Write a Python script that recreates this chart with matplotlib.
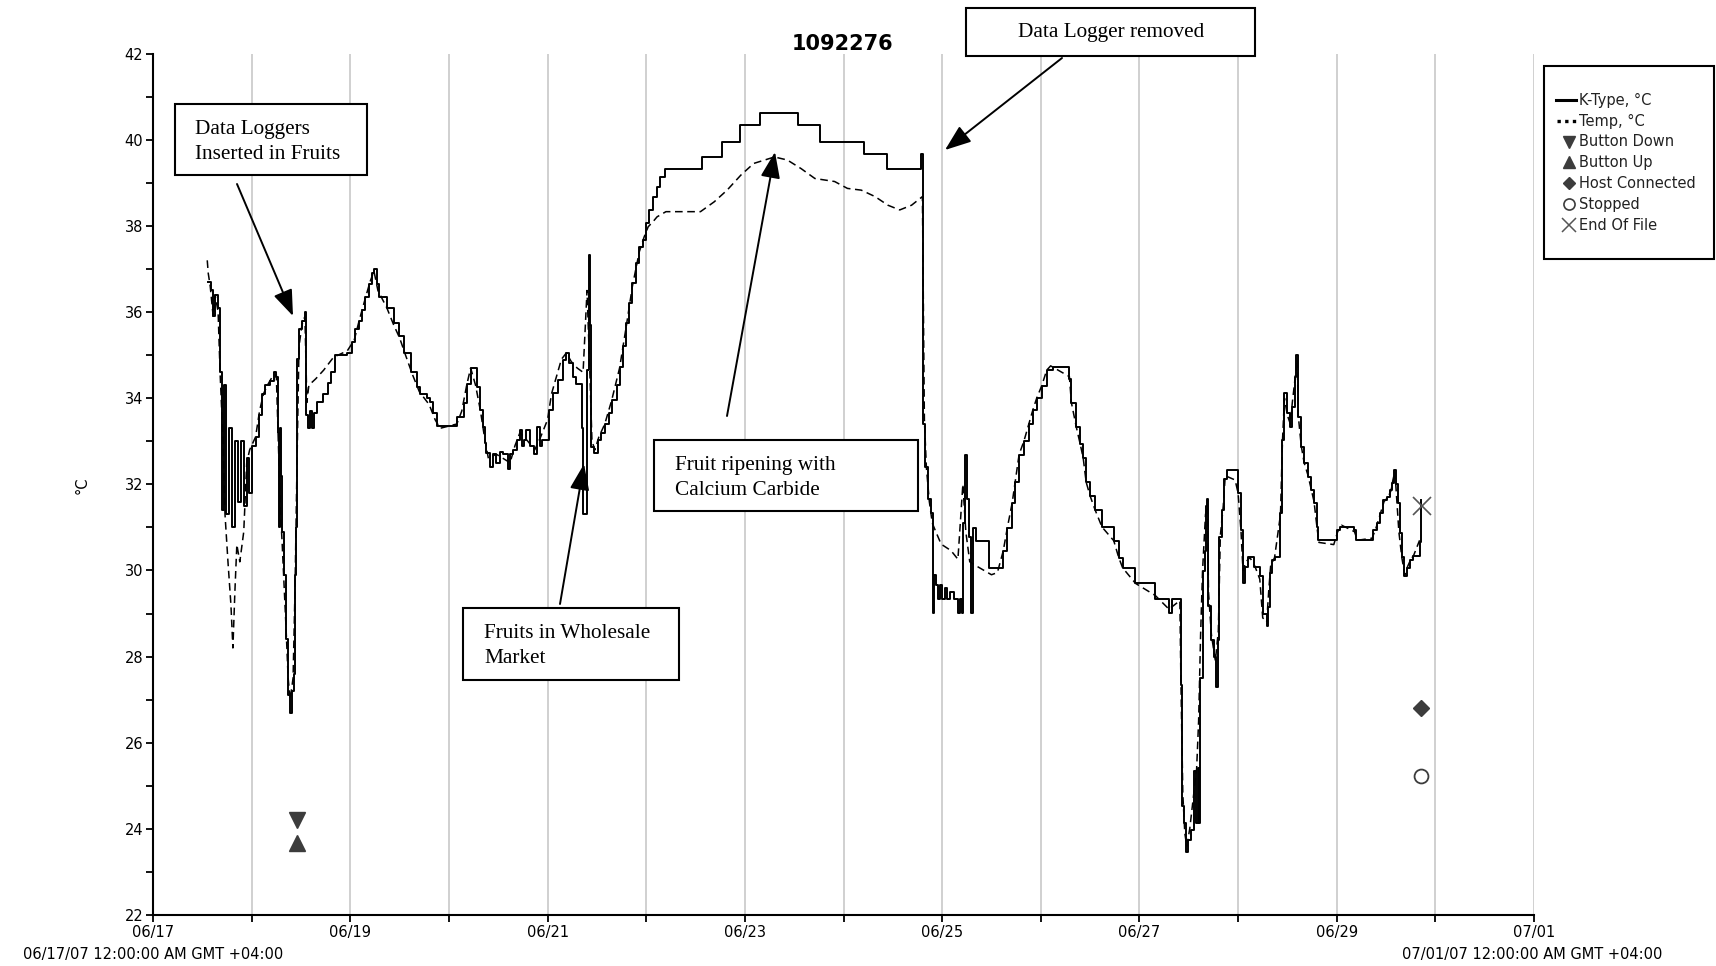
import numpy as np
import matplotlib
matplotlib.use('Agg')
import matplotlib.pyplot as plt
from matplotlib.patches import Rectangle
from matplotlib.lines import Line2D

W, H = 1716, 966

# readings as (days after 06/17/07 00:00, deg C)
k_type = [
    (0.56, 36.7), (0.59, 36.5), (0.61, 35.9), (0.63, 36.4), (0.66, 36.1), (0.68, 34.6),
    (0.70, 31.4), (0.72, 34.3), (0.745, 31.3), (0.775, 33.3), (0.80, 31.0), (0.83, 33.0),
    (0.86, 31.6), (0.89, 33.0), (0.92, 31.5), (0.95, 32.6), (0.97, 31.8),
    (1.00, 32.9), (1.04, 33.1), (1.07, 33.6),
    (1.11, 34.1), (1.14, 34.3), (1.19, 34.4), (1.23, 34.6), (1.25, 34.5), (1.27, 33.2),
    (1.28, 31.0), (1.29, 33.3), (1.30, 32.2), (1.31, 30.9), (1.33, 29.9), (1.35, 28.4),
    (1.37, 27.1), (1.39, 26.7), (1.41, 27.2), (1.43, 27.6), (1.44, 29.9), (1.45, 31.0),
    (1.46, 34.9), (1.48, 35.6), (1.51, 35.8), (1.54, 36.0), (1.55, 33.6), (1.57, 33.3),
    (1.59, 33.7), (1.61, 33.3), (1.63, 33.65), (1.66, 33.9), (1.72, 34.1), (1.77, 34.35),
    (1.80, 34.6), (1.84, 35.0), (1.97, 35.05), (2.02, 35.3), (2.05, 35.6), (2.09, 35.8),
    (2.12, 36.05), (2.15, 36.35), (2.19, 36.65), (2.22, 36.9), (2.24, 37.0), (2.27, 36.65),
    (2.29, 36.35), (2.37, 36.1), (2.44, 35.75), (2.49, 35.45), (2.54, 35.05), (2.62, 34.6),
    (2.68, 34.25), (2.71, 34.1), (2.78, 34.0), (2.81, 33.9), (2.84, 33.65), (2.88, 33.35),
    (3.08, 33.57), (3.15, 33.88), (3.18, 34.34), (3.22, 34.69), (3.28, 34.27), (3.32, 33.72),
    (3.35, 33.34), (3.37, 32.95), (3.38, 32.72), (3.42, 32.4), (3.45, 32.7), (3.48, 32.5),
    (3.52, 32.75), (3.55, 32.7), (3.60, 32.35), (3.62, 32.7), (3.65, 32.8), (3.69, 33.03),
    (3.72, 33.26), (3.74, 32.9), (3.76, 33.03), (3.78, 33.26), (3.82, 32.9), (3.86, 32.7),
    (3.89, 33.34), (3.92, 32.9), (3.94, 33.03), (4.01, 33.72), (4.06, 34.11), (4.11, 34.42),
    (4.16, 34.89), (4.19, 35.04), (4.22, 34.81), (4.26, 34.5), (4.29, 34.34), (4.35, 33.3),
    (4.36, 31.3), (4.40, 34.65), (4.415, 37.32), (4.43, 35.7), (4.44, 32.87), (4.47, 32.72),
    (4.51, 33.03), (4.54, 33.18), (4.58, 33.41), (4.62, 33.65), (4.65, 33.96), (4.70, 34.3),
    (4.73, 34.73), (4.76, 35.2), (4.80, 35.74), (4.83, 36.2), (4.86, 36.67), (4.90, 37.13),
    (4.93, 37.52), (4.97, 37.67), (5.00, 38.06), (5.03, 38.37), (5.07, 38.68), (5.11, 38.91),
    (5.14, 39.14), (5.19, 39.31), (5.57, 39.6), (5.77, 39.95), (5.95, 40.34), (6.15, 40.63),
    (6.54, 40.34), (6.76, 39.95), (7.21, 39.67), (7.44, 39.31), (7.79, 39.67), (7.81, 33.4),
    (7.83, 32.4), (7.86, 31.65), (7.89, 31.33), (7.91, 29.02), (7.92, 29.9), (7.94, 29.66),
    (7.96, 29.34), (7.98, 29.66), (8.00, 29.34), (8.03, 29.6), (8.05, 29.34), (8.08, 29.5),
    (8.12, 29.34), (8.16, 29.02), (8.18, 29.34), (8.20, 29.02), (8.21, 31.1), (8.23, 32.69),
    (8.25, 31.65), (8.27, 30.77), (8.29, 29.02), (8.31, 30.98), (8.34, 30.69), (8.47, 30.06),
    (8.62, 30.46), (8.66, 30.98), (8.71, 31.57), (8.74, 32.05), (8.78, 32.69), (8.83, 33.01),
    (8.88, 33.41), (8.92, 33.73), (8.96, 34.01), (9.01, 34.29), (9.06, 34.65), (9.12, 34.73),
    (9.29, 34.45), (9.31, 33.89), (9.36, 33.33), (9.40, 32.93), (9.43, 32.61), (9.46, 32.05),
    (9.50, 31.73), (9.55, 31.41), (9.62, 31.01), (9.74, 30.69), (9.79, 30.3), (9.83, 30.06),
    (9.96, 29.7), (10.16, 29.34), (10.30, 29.02), (10.33, 29.34), (10.42, 27.34),
    (10.43, 24.54), (10.45, 24.14), (10.47, 23.46), (10.49, 23.74), (10.52, 23.98),
    (10.55, 25.34), (10.57, 24.14), (10.59, 25.42), (10.60, 24.14), (10.61, 27.5),
    (10.64, 29.98), (10.66, 30.46), (10.67, 31.49), (10.69, 31.65), (10.70, 29.18),
    (10.73, 28.38), (10.76, 27.98), (10.78, 27.3), (10.80, 28.38), (10.81, 30.77),
    (10.84, 31.41), (10.86, 32.13), (10.89, 32.33), (11.00, 31.79), (11.03, 30.93),
    (11.05, 29.7), (11.07, 30.09), (11.10, 30.32), (11.16, 30.09), (11.22, 29.86),
    (11.25, 29.0), (11.29, 28.7), (11.30, 29.16), (11.32, 29.93), (11.34, 30.24),
    (11.37, 30.32), (11.43, 31.33), (11.45, 33.03), (11.47, 34.11), (11.50, 33.65),
    (11.53, 33.34), (11.55, 33.8), (11.58, 34.5), (11.59, 35.0), (11.61, 33.57),
    (11.64, 32.87), (11.67, 32.49), (11.71, 32.18), (11.74, 31.87), (11.77, 31.56),
    (11.80, 31.02), (11.81, 30.71), (12.00, 30.94), (12.03, 31.02), (12.18, 30.94),
    (12.20, 30.71), (12.37, 30.94), (12.41, 31.09), (12.44, 31.33), (12.47, 31.63),
    (12.51, 31.71), (12.54, 31.87), (12.56, 32.02), (12.58, 32.33), (12.60, 32.0),
    (12.62, 31.56), (12.64, 30.86), (12.66, 30.32), (12.68, 29.86), (12.71, 30.05),
    (12.74, 30.24), (12.77, 30.33), (12.84, 30.67), (12.85, 31.63),
]

temp = [
    (0.55, 37.2), (0.56, 36.9), (0.58, 36.6), (0.61, 35.9), (0.63, 36.4), (0.66, 36.0),
    (0.68, 34.6), (0.71, 33.0), (0.73, 31.3), (0.76, 30.2), (0.79, 29.2), (0.81, 28.2),
    (0.83, 29.5), (0.85, 30.6), (0.88, 30.2), (0.92, 30.9), (0.95, 32.5), (0.98, 32.8),
    (1.04, 33.1), (1.08, 33.7), (1.12, 34.1), (1.16, 34.3), (1.21, 34.5), (1.25, 34.55),
    (1.27, 33.0), (1.29, 31.5), (1.31, 30.6), (1.33, 29.6), (1.35, 28.6), (1.37, 27.5),
    (1.39, 27.0), (1.42, 27.5), (1.44, 29.6), (1.46, 32.5), (1.48, 35.2), (1.51, 35.7),
    (1.54, 35.9), (1.56, 33.9), (1.58, 34.3), (1.65, 34.45), (1.73, 34.65), (1.83, 34.95),
    (1.97, 35.1), (2.04, 35.35), (2.09, 35.8), (2.15, 36.3), (2.20, 36.7), (2.24, 36.95),
    (2.28, 36.5), (2.37, 36.1), (2.44, 35.7), (2.50, 35.4), (2.56, 35.0), (2.63, 34.55),
    (2.70, 34.15), (2.80, 33.85), (2.86, 33.5), (2.91, 33.3), (3.08, 33.4), (3.13, 33.7),
    (3.18, 34.3), (3.22, 34.7), (3.27, 34.3), (3.32, 33.7), (3.36, 33.1), (3.40, 32.6),
    (3.48, 32.7), (3.55, 32.6), (3.62, 32.5), (3.67, 32.9), (3.72, 33.2), (3.80, 33.0),
    (3.87, 32.8), (3.93, 33.1), (4.00, 33.5), (4.04, 34.1), (4.09, 34.5), (4.14, 34.9),
    (4.19, 35.05), (4.24, 34.85), (4.30, 34.7), (4.36, 34.6), (4.40, 36.5), (4.43, 34.5),
    (4.45, 33.0), (4.48, 32.8), (4.52, 33.1), (4.58, 33.4), (4.65, 33.95), (4.73, 34.7),
    (4.80, 35.7), (4.86, 36.6), (4.93, 37.4), (4.98, 37.75), (5.02, 37.98), (5.07, 38.1),
    (5.11, 38.21), (5.20, 38.33), (5.55, 38.33), (5.69, 38.56), (5.82, 38.83), (5.96, 39.18),
    (6.09, 39.45), (6.30, 39.6), (6.43, 39.53), (6.57, 39.33), (6.71, 39.1), (6.91, 39.03),
    (7.04, 38.87), (7.18, 38.83), (7.32, 38.68), (7.45, 38.48), (7.57, 38.37), (7.69, 38.48),
    (7.80, 38.68), (7.82, 33.5), (7.84, 32.4), (7.87, 31.6), (7.90, 31.1), (7.93, 30.93),
    (7.99, 30.61), (8.09, 30.46), (8.16, 30.26), (8.21, 32.0), (8.24, 30.9), (8.28, 30.2),
    (8.35, 30.1), (8.50, 29.9), (8.56, 29.95), (8.62, 30.46), (8.66, 30.98), (8.71, 31.57),
    (8.74, 32.05), (8.78, 32.69), (8.83, 33.01), (8.88, 33.41), (8.92, 33.73), (8.96, 34.01),
    (9.01, 34.29), (9.06, 34.65), (9.10, 34.75), (9.29, 34.5), (9.31, 33.9), (9.36, 33.33),
    (9.40, 32.93), (9.43, 32.61), (9.46, 32.05), (9.50, 31.73), (9.55, 31.41), (9.62, 31.01),
    (9.74, 30.69), (9.79, 30.3), (9.83, 30.06), (9.96, 29.7), (10.16, 29.42), (10.30, 29.1),
    (10.41, 29.3), (10.42, 27.5), (10.44, 24.8), (10.46, 23.9), (10.48, 23.6), (10.51, 24.0),
    (10.55, 24.8), (10.58, 25.4), (10.60, 26.5), (10.62, 28.5), (10.64, 30.0), (10.67, 31.3),
    (10.69, 31.5), (10.70, 29.5), (10.73, 28.5), (10.77, 27.9), (10.80, 28.6), (10.82, 30.8),
    (10.85, 31.5), (10.87, 32.2), (10.97, 32.1), (11.00, 31.8), (11.03, 30.9), (11.05, 30.0),
    (11.08, 30.2), (11.12, 30.3), (11.17, 30.1), (11.22, 29.8), (11.25, 28.9), (11.29, 28.8),
    (11.31, 29.5), (11.33, 30.1), (11.37, 30.3), (11.43, 31.3), (11.45, 33.0), (11.47, 34.0),
    (11.50, 33.6), (11.53, 33.4), (11.55, 33.9), (11.58, 34.5), (11.60, 34.9), (11.61, 33.6),
    (11.64, 32.9), (11.67, 32.5), (11.71, 32.2), (11.74, 31.9), (11.77, 31.6), (11.80, 31.0),
    (11.82, 30.65), (11.97, 30.6), (12.01, 30.9), (12.05, 31.05), (12.18, 30.9), (12.21, 30.7),
    (12.36, 30.75), (12.40, 31.0), (12.44, 31.3), (12.48, 31.6), (12.52, 31.7), (12.55, 31.85),
    (12.57, 32.1), (12.59, 32.3), (12.61, 31.6), (12.63, 30.9), (12.66, 30.3), (12.69, 29.9),
    (12.72, 30.1), (12.75, 30.25), (12.78, 30.35), (12.84, 30.7),
]

# logger events
event_names = ['Button Down', 'Button Up', 'Host Connected', 'Stopped', 'End Of File']
event_day = [1.456, 1.456, 12.85, 12.85, 12.86]
event_val = [24.21, 23.68, 26.8, 25.23, 31.5]
event_marker = ['v', '^', 'D', 'o', 'x']

date_labels = ['06/17', '06/19', '06/21', '06/23', '06/25', '06/27', '06/29', '07/01']
start_label = '06/17/07 12:00:00 AM GMT +04:00'
end_label = '07/01/07 12:00:00 AM GMT +04:00'

k_day, k_val = np.array(k_type).T
t_day, t_val = np.array(temp).T


def fx(x, y):
    # pixel position from the top-left corner -> figure fraction
    return x / W, 1 - y / H


fig = plt.figure(figsize=(W / 100, H / 100), dpi=100)
ax = fig.add_axes([153 / W, 51 / H, (1534 - 153) / W, (915 - 53.6) / H])

ax.plot(t_day, t_val, color='k', lw=1.1, ls=(0, (5, 3)), zorder=3)
ax.step(k_day, k_val, where='post', color='k', lw=1.4, zorder=4)

gray = '#3c3c3c'
for d, v, m in zip(event_day, event_val, event_marker):
    if m == 'o':
        ax.plot(d, v, marker='o', ms=10, mfc='white', mec=gray, mew=1.3, zorder=5)
    elif m == 'x':
        ax.plot(d, v, marker='x', ms=13, mec='#555555', mew=1.2, zorder=5)
    elif m == 'D':
        ax.plot(d, v, marker='D', ms=8, color=gray, zorder=5)
    else:
        ax.plot(d, v, marker=m, ms=11, color=gray, zorder=5)

ax.set_xlim(0, 14)
ax.set_ylim(22, 42)
ax.set_xticks(np.arange(0, 15, 2))
ax.set_xticklabels(date_labels)
ax.set_xticks(np.arange(1, 14, 2), minor=True)
ax.set_yticks(np.arange(22, 43, 2))
ax.set_yticks(np.arange(23, 42, 2), minor=True)
ax.tick_params(which='both', direction='out', length=5, width=1.3, labelsize=10.5,
               color='k', pad=2)
ax.grid(True, axis='x', which='both', color='#cdcdcd', lw=1.3)
ax.set_axisbelow(True)
for s in ['top', 'right']:
    ax.spines[s].set_visible(False)
for s in ['left', 'bottom']:
    ax.spines[s].set_linewidth(1.5)

fig.text(*fx(843, 44), '1092276', fontsize=15, fontweight='bold', ha='center', va='center')
fig.text(*fx(82, 485), '°C', fontsize=10.5, rotation=90, ha='center', va='center')
fig.text(*fx(153, 954), start_label, fontsize=10.5, ha='center', va='center')
fig.text(*fx(1532, 954), end_label, fontsize=10.5, ha='center', va='center')

# legend box on the right
x0, y0 = fx(1544, 259)
x1, y1 = fx(1714, 66)
fig.add_artist(Rectangle((x0, y0), x1 - x0, y1 - y0, transform=fig.transFigure,
                         fill=False, ec='k', lw=1.5))
rows_y = [100, 121, 142, 162, 183, 204, 225]
leg_labels = ['K-Type, °C', 'Temp, °C'] + event_names
for i, (lab, yy) in enumerate(zip(leg_labels, rows_y)):
    if i == 0:
        fig.add_artist(Line2D([1556 / W, 1576 / W], [1 - yy / H] * 2,
                              transform=fig.transFigure, color='k', lw=2.2))
    elif i == 1:
        fig.add_artist(Line2D([1557 / W, 1576 / W], [1 - yy / H] * 2,
                              transform=fig.transFigure, color='k', lw=2.4,
                              ls=(0, (1, 1.3))))
    else:
        m = event_marker[i - 2]
        kw = dict(marker=m, ls='none', transform=fig.transFigure)
        if m == 'o':
            kw.update(ms=8, mfc='white', mec=gray, mew=1.2)
        elif m == 'x':
            kw.update(ms=10, mec='#555555', mew=1.1)
        elif m == 'D':
            kw.update(ms=6, color=gray)
        else:
            kw.update(ms=8, color=gray)
        fig.add_artist(Line2D([1569 / W], [1 - yy / H], **kw))
    fig.text(1579 / W, 1 - yy / H, lab, fontsize=10.5, color='#222222',
             ha='left', va='center')

# annotation boxes with arrows
serif = 'Liberation Serif'
notes = [
    ((175, 104, 367, 175), (195, 142), 'Data Loggers\nInserted in Fruits'),
    ((966, 8, 1255, 56), (1018, 32), 'Data Logger removed'),
    ((654, 440, 918, 511), (675, 478), 'Fruit ripening with\nCalcium Carbide'),
    ((463, 608, 679, 680), (484, 646), 'Fruits in Wholesale\nMarket'),
]
for (bx0, by0, bx1, by1), (tx, ty), txt in notes:
    px0, py0 = fx(bx0, by1)
    px1, py1 = fx(bx1, by0)
    fig.add_artist(Rectangle((px0, py0), px1 - px0, py1 - py0, transform=fig.transFigure,
                             fc='white', ec='k', lw=1.5, zorder=6))
    fig.text(*fx(tx, ty), txt, fontsize=15.3, family=serif, ha='left', va='center',
             linespacing=1.38, zorder=7)

arrows = [
    ((237, 184), (293, 316)),
    ((1062, 58), (945, 150)),
    ((727, 416), (775, 152)),
    ((560, 604), (584, 464)),
]
for (ax0, ay0), (ax1, ay1) in arrows:
    ax.annotate('', xy=(ax1, H - ay1), xytext=(ax0, H - ay0),
                xycoords='figure pixels', textcoords='figure pixels',
                arrowprops=dict(arrowstyle='-|>,head_length=0.8,head_width=0.3',
                                mutation_scale=20, color='k', lw=1.4,
                                shrinkA=0, shrinkB=0),
                annotation_clip=False, zorder=8)

fig.savefig('out.png', dpi=100)
